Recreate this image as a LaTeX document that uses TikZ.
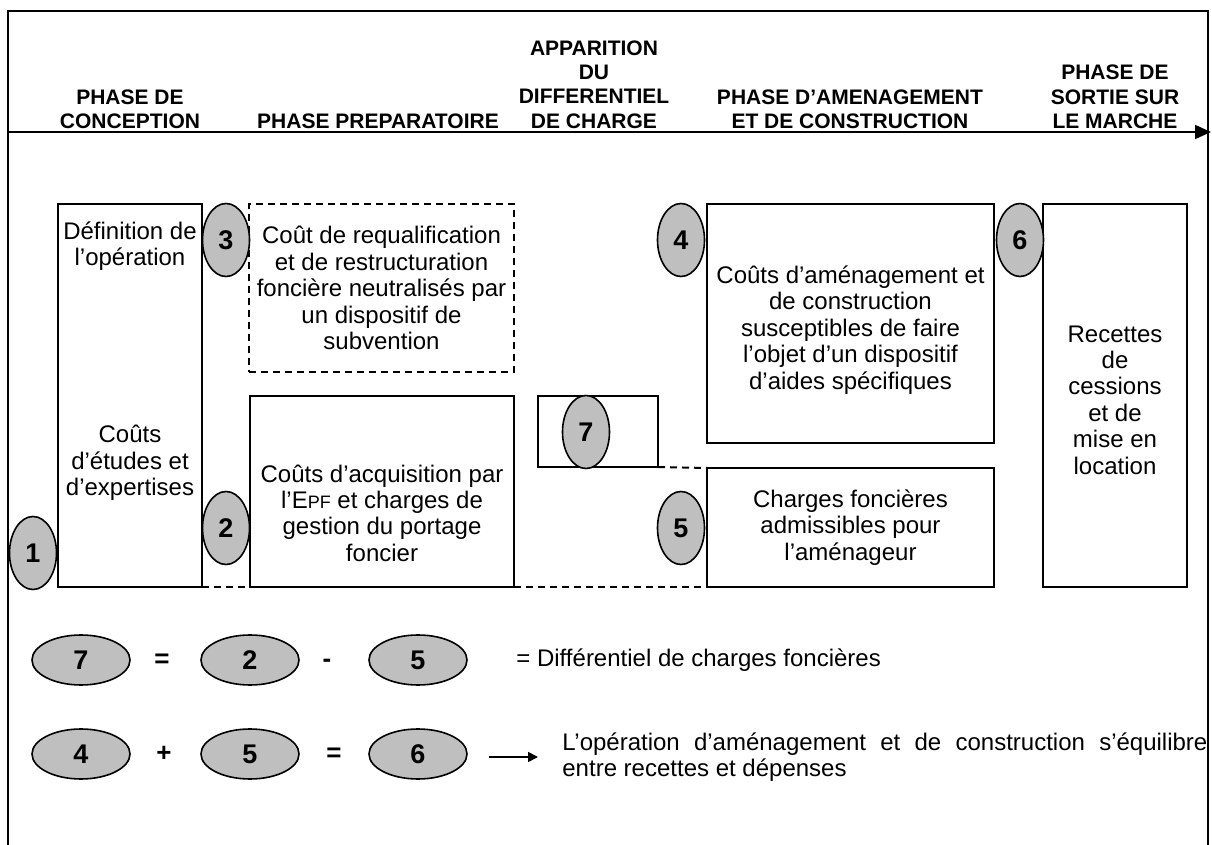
\documentclass[tikz,border=0pt]{standalone}
\usepackage{fontspec}
\setmainfont{Liberation Sans}
\usetikzlibrary{shapes.geometric}
\usetikzlibrary{arrows.meta}
\usetikzlibrary{calc}
\hyphenpenalty=10000

\begin{document}
\begin{tikzpicture}[x=0.5pt, y=-0.5pt]

\tikzset{
  box/.style={draw, line width=1pt, inner sep=0pt, outer sep=0pt},
  dbox/.style={box, dash pattern=on 3.5pt off 2.5pt},
  num/.style={draw, ellipse, fill=gray!50, line width=0.8pt, inner sep=0pt,
    minimum width=23.5pt, minimum height=36.5pt, font=\fontsize{13.5}{14}\selectfont\bfseries},
  bignum/.style={num, minimum width=49pt, minimum height=25pt},
  txt/.style={align=center, font=\fontsize{12}{13.2}\selectfont},
  head/.style={align=center, font=\fontsize{10.5}{12.15}\selectfont\bfseries},
  op/.style={anchor=base, font=\fontsize{13}{14}\selectfont\bfseries},
  link/.style={line width=1pt, dash pattern=on 3.5pt off 2.5pt},
}

\useasboundingbox (0,0) rectangle (1212,845);

% cadre et axe du temps
\coordinate (f1) at (8,845);
\coordinate (f2) at (8,11);
\coordinate (f3) at (1208,11);
\coordinate (f4) at (1208,845);
\draw [line width=1pt] (f1) -- (f2) -- (f3) -- (f4);

\coordinate (t0) at (8,132);
\coordinate (t1) at (1211,132);
\draw [line width=0.9pt, -{Triangle[length=8pt,width=7pt]}] (t0) -- (t1);

% phases
\node [head] (h1) at (130,109) {PHASE DE\\CONCEPTION};
\node [head] (h2) at (378,121) {PHASE PREPARATOIRE};
\node [head] (h3) at (594,84.5) {APPARITION\\DU\\DIFFERENTIEL\\DE CHARGE};
\node [head] (h4) at (850,109) {PHASE D’AMENAGEMENT\\ET DE CONSTRUCTION};
\node [head] (h5) at (1115,97) {PHASE DE\\SORTIE SUR\\LE MARCHE};

% cadres
\node [box, minimum width=72pt, minimum height=191.5pt] (A) at (130,395.5) {};
\node [dbox, minimum width=132.5pt, minimum height=84pt] (R) at (381.5,288) {};
\node [box, minimum width=132pt, minimum height=95.5pt] (B) at (382,491.5) {};
\node [box, minimum width=60pt, minimum height=35.5pt] (D) at (598,431.5) {};
\node [box, minimum width=143.5pt, minimum height=119.5pt] (C) at (850.5,323.5) {};
\node [box, minimum width=143.5pt, minimum height=59.5pt] (F) at (850.5,527.5) {};
\node [box, minimum width=72pt, minimum height=191.5pt] (S) at (1115,395.5) {};

\draw [link] (A.south east) -- (B.south west);
\draw [link] (B.south east) -- (F.south west);
\draw [link] (D.south east) -- (F.north west);

% textes
\node [txt] (tA1) at (130,246) {Définition de\\l’opération};
\node [txt] (tA2) at (130,463) {Coûts\\d’études et\\d’expertises};
\node [txt] (tR) at (R) {Coût de requalification\\et de restructuration\\foncière neutralisés par\\un dispositif de\\subvention};
\node [txt] (tB) at (382,513) {Coûts d’acquisition par\\l’E{\fontsize{9}{10}\selectfont PF} et charges de\\gestion du portage\\foncier};
\node [txt] (tC) at (850.5,330) {Coûts d’aménagement et\\de construction\\susceptibles de faire\\l’objet d’un dispositif\\d’aides spécifiques};
\node [txt] (tF) at (F) {Charges foncières\\admissibles pour\\l’aménageur};
\node [txt] (tS) at (1115,400) {Recettes\\de\\cessions\\et de\\mise en\\location};

% pastilles
\node [num] (n1) at (33,553) {1};
\node [num] (n3) at (226,240) {3};
\node [num] (n2) at (226,528) {2};
\node [num] (n7) at (586,432) {7};
\node [num] (n4) at (681,240) {4};
\node [num] (n5) at (681,528) {5};
\node [num] (n6) at (1020,240) {6};

% equations
\node [bignum] (q7) at (81,660) {7};
\node [op] (o1) at (162,668) {=};
\node [bignum] (q2) at (250,660) {2};
\node [op] (o2) at (327,668) {-};
\node [bignum] (q5) at (418,660) {5};
\node [txt, anchor=west, inner sep=0pt] (d1) at (516,660) {= Différentiel de charges foncières};

\node [bignum] (p4) at (81,754) {4};
\node [op] (o3) at (164,762) {+};
\node [bignum] (p5) at (250,754) {5};
\node [op] (o4) at (334,762) {=};
\node [bignum] (p6) at (418,754) {6};
\node [txt, anchor=west, inner sep=0pt, text width=322.5pt, align=justify] (d2) at (562,757)
  {\tolerance=10000 L’opération d’aménagement et de construction s’équilibre entre recettes et dépenses};
\coordinate (a0) at (489,757);
\coordinate (a1) at (538,757);
\draw [line width=0.8pt, -{Triangle[length=5pt,width=5pt]}] (a0) -- (a1);

\end{tikzpicture}
\end{document}
